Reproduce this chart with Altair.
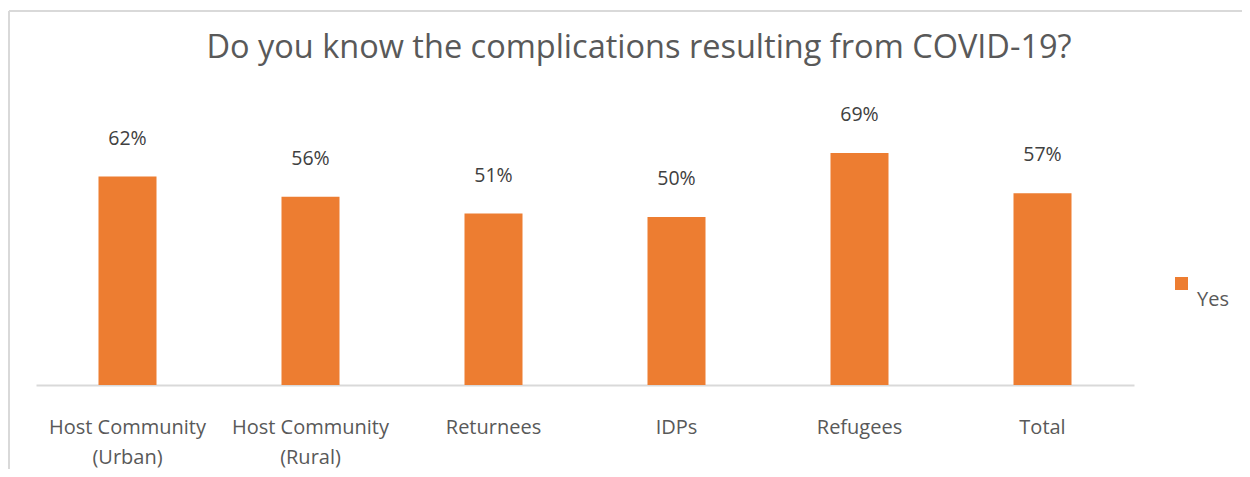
import altair as alt
import pandas as pd

categories = ["Host Community|(Urban)", "Host Community|(Rural)", "Returnees", "IDPs", "Refugees", "Total"]
values = [0.62, 0.56, 0.51, 0.50, 0.69, 0.57]
series_name = "Yes"
title_text = "Do you know the complications resulting from COVID-19?"

df = pd.DataFrame({"category": categories, "value": values, "series": [series_name] * len(categories)})

ORANGE = "#ED7D31"
FONT = "Open Sans"

x_enc = alt.X(
    "category:N",
    sort=None,
    title=None,
    scale=alt.Scale(paddingInner=0.683, paddingOuter=0.3415),
    axis=alt.Axis(
        labelAngle=0,
        labelExpr="split(datum.label, '|')",
        labelFontSize=20,
        labelColor="#595959",
        labelFont=FONT,
        labelLineHeight=30,
        labelPadding=32,
        labelBaseline="top",
        ticks=False,
        domainColor="#D9D9D9",
        domainWidth=2,
    ),
)
y_enc = alt.Y("value:Q", scale=alt.Scale(domain=[0, 0.8]), axis=None)
color_enc = alt.Color("series:N", scale=alt.Scale(domain=[series_name], range=[ORANGE]), legend=None)

base = alt.Chart(df)

bars = base.mark_bar().encode(x=x_enc, y=y_enc, color=color_enc)

labels = base.mark_text(
    dy=-38, fontSize=19.5, color="#404040", font=FONT
).encode(
    x=alt.X("category:N", sort=None),
    y="value:Q",
    text=alt.Text("value:Q", format=".0%"),
)

meta = alt.Data(values=[{"t": title_text, "series": series_name}])
top_line = alt.Chart(meta).mark_rule(color="#D9D9D9", strokeWidth=2).encode(
    x=alt.value(-27), x2=alt.value(1250), y=alt.value(-105)
)
left_line = alt.Chart(meta).mark_rule(color="#D9D9D9", strokeWidth=2).encode(
    x=alt.value(-27), y=alt.value(-105), y2=alt.value(400)
)
title = alt.Chart(meta).mark_text(
    fontSize=32.5, font=FONT, color="#595959", align="center", baseline="middle"
).encode(x=alt.value(603), y=alt.value(-68), text="t:N")

legend_sym = alt.Chart(meta).mark_square(size=169, opacity=1).encode(
    x=alt.value(1145.5), y=alt.value(167.5),
    color=alt.Color("series:N", scale=alt.Scale(domain=[series_name], range=[ORANGE]), legend=None),
)
legend_txt = alt.Chart(meta).mark_text(
    fontSize=20, font=FONT, color="#595959", align="left", baseline="middle"
).encode(x=alt.value(1161), y=alt.value(184), text="series:N")

chart = (
    alt.layer(top_line, left_line, title, bars, labels, legend_sym, legend_txt)
    .properties(
        width=1098,
        height=269,
        autosize=alt.AutoSizeParams(type="none"),
        padding={"left": 28, "top": 108, "right": 108, "bottom": 84},
    )
    .configure_view(stroke=None)
)

chart.save("out.html", embed_options={"renderer": "svg", "actions": False})
